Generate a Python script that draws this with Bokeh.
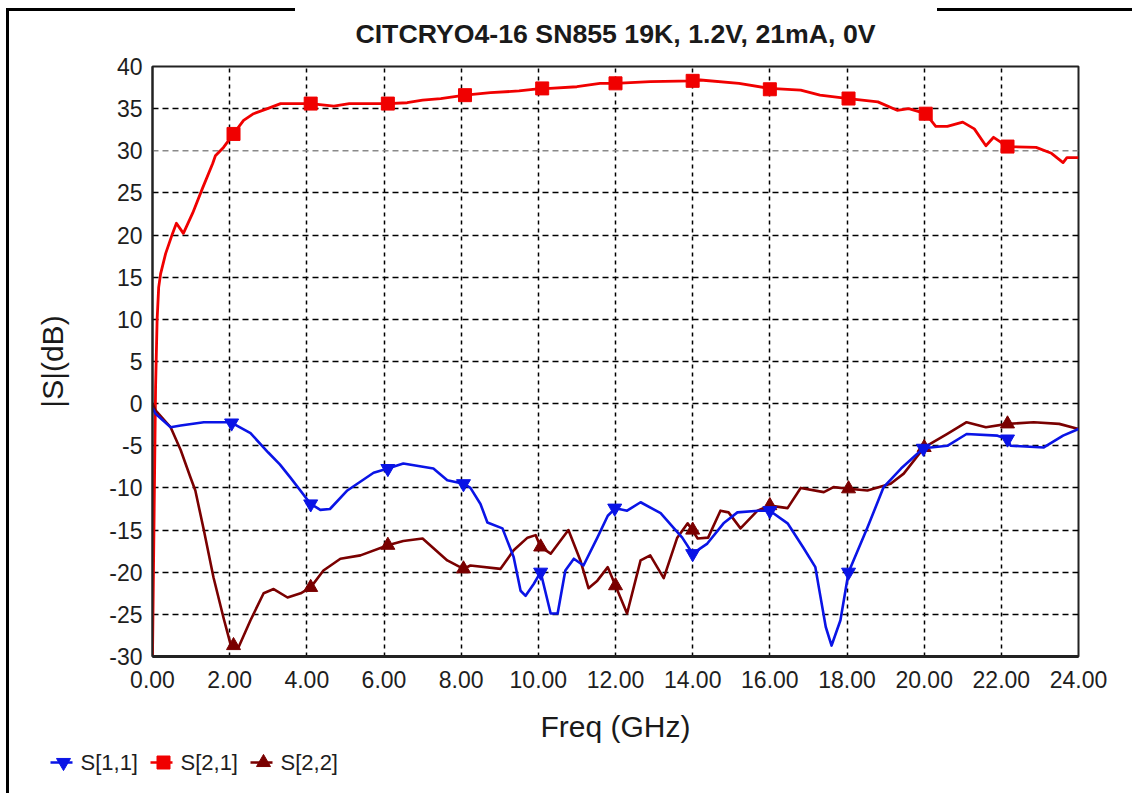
from bokeh.plotting import figure
from bokeh.models import (Range1d, FixedTicker, PrintfTickFormatter, Span, Div, Spacer, Row, Column)
from bokeh.core.properties import value
from bokeh.embed import file_html
from bokeh.resources import INLINE

# ---------------- data ----------------
x_ticks = [0, 2, 4, 6, 8, 10, 12, 14, 16, 18, 20, 22, 24]
y_ticks = [-30, -25, -20, -15, -10, -5, 0, 5, 10, 15, 20, 25, 35, 40]
y_grey_tick = 30

f21 = [0.00, 0.02, 0.04, 0.08, 0.12, 0.16, 0.21, 0.34, 0.52, 0.62, 0.80, 1.04, 1.30, 1.56, 1.63,
       1.84, 2.10, 2.36, 2.62, 2.98, 3.32, 4.10, 4.70, 5.10, 6.10, 6.60, 7.00, 7.47, 8.10, 8.76,
       9.50, 10.10, 10.30, 11.00, 11.60, 12.00, 12.90, 14.00, 14.20, 15.20, 16.00, 16.80, 17.30,
       18.04, 18.80, 19.30, 19.60, 20.04, 20.30, 20.60, 21.00, 21.30, 21.60, 21.80, 22.16, 22.90,
       23.30, 23.60, 23.70, 24.00]
s21 = [-30, -22, -14, 2, 10, 13.8, 15.4, 17.8, 20.2, 21.4, 20.2, 22.6, 25.6, 28.5, 29.4,
       30.4, 32.0, 33.6, 34.4, 35.0, 35.6, 35.6, 35.3, 35.6, 35.6, 35.7, 36.0, 36.2, 36.6, 36.9,
       37.1, 37.4, 37.4, 37.6, 38.0, 38.0, 38.2, 38.3, 38.4, 38.0, 37.4, 37.2, 36.6,
       36.2, 35.8, 34.8, 35.0, 34.4, 32.9, 32.9, 33.4, 32.6, 30.6, 31.6, 30.5, 30.4,
       29.7, 28.6, 29.2, 29.2]

f11 = [0.00, 0.08, 0.47, 0.73, 1.33, 2.02, 2.54, 3.00, 3.30, 3.58, 4.10, 4.35, 4.60, 5.05, 5.73,
       6.10, 6.50, 7.28, 7.64, 8.06, 8.24, 8.50, 8.68, 9.07, 9.36, 9.54, 9.67, 9.88, 10.06, 10.32,
       10.50, 10.70, 10.92, 11.17, 11.53, 11.80, 12.00, 12.30, 12.65, 13.17, 13.50, 13.73, 14.00,
       14.38, 14.80, 15.16, 15.70, 16.00, 16.46, 16.87, 17.18, 17.27, 17.45, 17.60, 17.83, 18.04,
       18.53, 18.95, 19.40, 19.98, 20.60, 21.10, 21.90, 22.16, 22.24, 23.10, 23.60, 24.00]
s11 = [-0.5, -1.2, -2.8, -2.6, -2.2, -2.2, -3.5, -5.8, -7.2, -8.8, -11.9, -12.6, -12.5, -10.3, -8.2,
       -7.7, -7.1, -7.7, -9.1, -9.5, -10.0, -11.9, -14.1, -14.8, -18.2, -22.2, -22.8, -21.4, -20.0, -24.9,
       -24.9, -19.8, -18.4, -19.2, -15.9, -13.3, -12.4, -12.7, -11.7, -13.0, -14.7, -15.9, -17.8,
       -16.6, -14.2, -12.9, -12.7, -12.7, -14.2, -17.1, -19.4, -21.8, -26.5, -28.7, -25.7, -20.0,
       -14.7, -9.9, -7.7, -5.3, -5.0, -3.6, -3.8, -4.2, -5.0, -5.2, -3.8, -3.0]

f22 = [0.00, 0.08, 0.47, 0.73, 0.98, 1.11, 1.33, 1.58, 1.84, 2.02, 2.23, 2.54, 2.88, 3.14, 3.50,
       3.84, 4.10, 4.43, 4.87, 5.39, 6.10, 6.50, 7.00, 7.64, 8.06, 8.24, 9.02, 9.36, 9.72, 9.93,
       10.06, 10.32, 10.78, 11.09, 11.30, 11.53, 11.80, 12.00, 12.30, 12.65, 12.90, 13.25, 13.60,
       13.87, 14.13, 14.40, 14.72, 14.93, 15.24, 15.68, 16.00, 16.46, 16.80, 17.40, 17.65, 18.04,
       18.53, 19.13, 19.47, 20.00, 20.60, 21.10, 21.60, 22.16, 22.84, 23.50, 24.00]
s22 = [0.0, -0.8, -2.8, -5.5, -8.7, -10.3, -15.0, -20.6, -25.4, -28.5, -28.9, -25.7, -22.5, -22.0, -23.0,
       -22.5, -21.8, -19.8, -18.4, -18.0, -16.8, -16.3, -16.0, -18.6, -19.6, -19.2, -19.6, -17.4, -15.9, -15.6,
       -17.0, -17.8, -15.0, -18.6, -21.9, -21.0, -19.4, -21.6, -24.9, -18.6, -18.0, -20.7, -15.9,
       -14.2, -16.0, -15.9, -12.7, -12.9, -14.8, -12.7, -12.1, -12.4, -10.0, -10.5, -9.9, -10.1,
       -10.3, -9.5, -8.3, -5.2, -3.6, -2.2, -2.8, -2.4, -2.2, -2.4, -3.0]

m11_f = [2.05, 4.10, 6.10, 8.06, 10.06, 11.98, 14.00, 16.00, 18.04, 19.98, 22.16]
m11_v = [-2.3, -11.9, -7.7, -9.5, -20.0, -12.4, -17.8, -12.7, -20.0, -5.3, -4.2]
m21_f = [2.10, 4.10, 6.10, 8.10, 10.10, 12.00, 14.00, 16.00, 18.04, 20.04, 22.16]
m21_v = [32.0, 35.6, 35.6, 36.6, 37.4, 38.0, 38.3, 37.3, 36.2, 34.4, 30.5]
m22_f = [2.10, 4.10, 6.10, 8.06, 10.06, 12.00, 14.00, 16.00, 18.04, 20.00, 22.16]
m22_v = [-28.7, -21.8, -16.8, -19.6, -17.0, -21.6, -15.0, -12.1, -10.1, -5.2, -2.4]

title_text = "CITCRYO4-16 SN855 19K, 1.2V, 21mA, 0V"
x_label = "Freq (GHz)"
y_label = "|S|(dB)"
names = ["S[1,1]", "S[2,1]", "S[2,2]"]

# ---------------- style ----------------
FONT = "Liberation Sans"
TXT = "#1a1a1a"
C11, C21, C22 = "#0a14e6", "#f00000", "#7a0000"
W = 1123  # width of the chart column


def strip(height, xr):
    f = figure(width=W, height=height, output_backend="svg", toolbar_location=None,
               x_range=xr, y_range=Range1d(0, height),
               x_axis_location=None, y_axis_location=None,
               min_border_left=0, min_border_right=0, min_border_top=0, min_border_bottom=0)
    f.grid.visible = False
    f.outline_line_color = None
    f.title.visible = False
    return f


# ---------------- title strip (its frame lines up with the chart frame) ----------------
tf = strip(41, Range1d(0, 24))
tf.text(x=[12], y=[19], text=[title_text], text_align="center", text_baseline="middle",
        text_font=value(FONT), text_font_size=value("26.7px"), text_font_style="bold",
        text_color=TXT)

# ---------------- main figure ----------------
p = figure(width=W, height=694, output_backend="svg", toolbar_location=None,
           x_range=Range1d(0, 24), y_range=Range1d(-30, 40),
           min_border_left=143, min_border_right=54, min_border_top=14, min_border_bottom=90)
p.title.visible = False
p.background_fill_color = "white"
p.border_fill_color = "white"
p.outline_line_color = "#222222"
p.outline_line_width = 2

for ax in (p.xaxis[0], p.yaxis[0]):
    ax.major_tick_line_color = None
    ax.minor_tick_line_color = None
    ax.axis_line_color = "#222222"
    ax.major_label_text_font = FONT
    ax.major_label_text_font_size = "23px"
    ax.major_label_text_color = "#1e1e1e"
    ax.axis_label_text_font = FONT
    ax.axis_label_text_font_size = "30px"
    ax.axis_label_text_font_style = "normal"
    ax.axis_label_text_color = TXT
p.xaxis[0].axis_line_width = 3
p.yaxis[0].axis_line_width = 2
p.xaxis[0].ticker = FixedTicker(ticks=x_ticks)
p.xaxis[0].formatter = PrintfTickFormatter(format="%.2f")
p.xaxis[0].major_label_standoff = 8
p.xaxis[0].axis_label = x_label
p.xaxis[0].axis_label_standoff = 19
all_y = sorted(y_ticks + [y_grey_tick])
p.yaxis[0].ticker = FixedTicker(ticks=all_y)
p.yaxis[0].major_label_overrides = {t: str(t) for t in all_y}
p.yaxis[0].major_label_standoff = 4
p.yaxis[0].axis_label = y_label
p.yaxis[0].axis_label_standoff = 37

p.xgrid[0].ticker = FixedTicker(ticks=x_ticks)
p.xgrid[0].grid_line_color = "black"
p.xgrid[0].grid_line_dash = "4 4"
p.xgrid[0].grid_line_width = 1.5
p.ygrid[0].ticker = FixedTicker(ticks=y_ticks)
p.ygrid[0].grid_line_color = "black"
p.ygrid[0].grid_line_dash = "6 4"
p.ygrid[0].grid_line_width = 1.5
p.add_layout(Span(location=y_grey_tick, dimension="width", line_color="#8a8a8a",
                  line_dash="6 4", line_width=1.5, level="underlay"))

p.line(f21, s21, line_color=C21, line_width=2.8, line_join="round")
p.scatter(m21_f, m21_v, marker="square", size=13, fill_color=C21, line_color=C21)
p.line(f22, s22, line_color=C22, line_width=2.6, line_join="round")
p.scatter(m22_f, m22_v, marker="triangle", size=14, fill_color=C22, line_color=C22)
p.line(f11, s11, line_color=C11, line_width=2.6, line_join="round")
p.scatter(m11_f, m11_v, marker="inverted_triangle", size=14, fill_color=C11, line_color=C11)

# ---------------- legend strip (drawn by hand, layout positions only) ----------------
lg = strip(47, Range1d(0, W))
key_x = [41, 141, 241]        # left edge of each key, strip pixels
key_y = 31
for kx, name, col, mk, sz in zip(key_x, names, [C11, C21, C22],
                                 ["inverted_triangle", "square", "triangle"], [14, 13, 14]):
    lg.segment(x0=[kx], y0=[key_y], x1=[kx + 22], y1=[key_y], line_color=col, line_width=2.6)
    lg.scatter(x=[kx + 13], y=[key_y], marker=mk, size=sz, fill_color=col, line_color=col)
    lg.text(x=[kx + 30], y=[key_y], text=[name], text_align="left", text_baseline="middle",
            text_font=value(FONT), text_font_size=value("22px"), text_color="#1e1e1e")

# ---------------- outer frame lines ----------------
blk = {"background-color": "black"}
top_row = Row(children=[Div(text="", width=286, height=3, margin=0, styles=blk),
                        Spacer(width=642, height=3, margin=0),
                        Div(text="", width=195, height=3, margin=0, styles=blk)],
              spacing=0, margin=0)
chart_col = Column(children=[Spacer(width=W, height=8, margin=0), top_row, tf, p],
                   spacing=0, margin=0)
upper = Row(children=[Spacer(width=6, height=10, margin=0),
                      Column(children=[Spacer(width=3, height=8, margin=0),
                                       Div(text="", width=3, height=738, margin=0, styles=blk)],
                             spacing=0, margin=0),
                      chart_col], spacing=0, margin=0)
lower = Row(children=[Spacer(width=6, height=10, margin=0),
                      Div(text="", width=3, height=47, margin=0, styles=blk),
                      lg], spacing=0, margin=0)
layout = Column(children=[upper, lower], spacing=0, margin=0)

open("out.html", "w").write(file_html(layout, INLINE))
